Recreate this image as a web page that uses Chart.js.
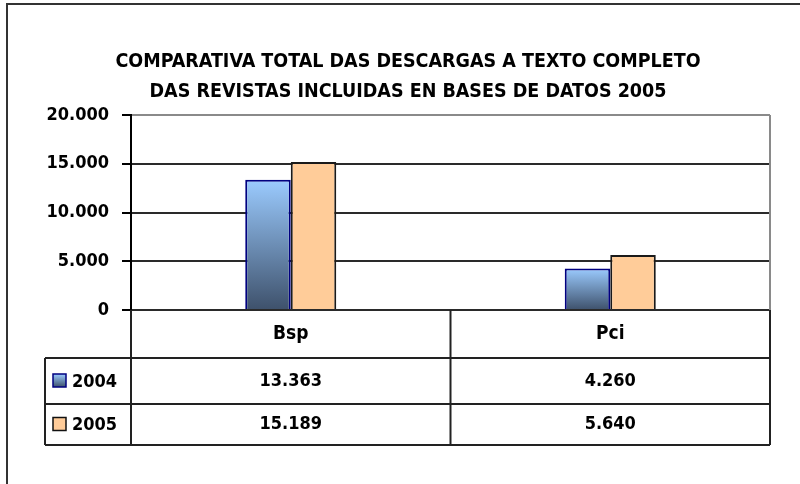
<!DOCTYPE html>
<html>
<head>
<meta charset="utf-8">
<script src="https://cdn.jsdelivr.net/npm/chart.js@4"></script>
<style>
  html, body { margin: 0; padding: 0; background: #fff; }
  #wrap { width: 800px; height: 484px; }
</style>
</head>
<body>
<div id="wrap"><canvas id="descargasChart" width="800" height="484"></canvas></div>
<script>
var categories = ['Bsp', 'Pci'];
var seriesNames = ['2004', '2005'];
var values2004 = [13363, 4260];
var values2005 = [15189, 5640];
var titleLines = [
    'COMPARATIVA TOTAL DAS DESCARGAS A TEXTO COMPLETO',
    'DAS REVISTAS INCLUIDAS EN BASES DE DATOS 2005'
];
var yMin = 0, yMax = 20000, yStep = 5000;

var FONT = '"DejaVu Sans Condensed", "DejaVu Sans", sans-serif';

function fmt(v) {
    return String(v).replace(/\B(?=(\d{3})+(?!\d))/g, '.');
}

function blueGradient(ctx, top, bottom) {
    var g = ctx.createLinearGradient(0, top, 0, bottom);
    g.addColorStop(0, '#9BCBFF');
    g.addColorStop(1, '#3E516B');
    return g;
}

var tablePlugin = {
    id: 'dataTable',
    beforeDraw: function(chart) {
        var c = chart.ctx;
        c.save();
        c.fillStyle = '#fff';
        c.fillRect(0, 0, chart.width, chart.height);
        c.restore();
    },
    afterDraw: function(chart) {
        var c = chart.ctx;
        var area = chart.chartArea;
        var x = chart.scales.x;
        var catW = area.width / categories.length;
        var headerBottom = area.bottom + 48;
        var row1Bottom = headerBottom + 46;
        var row2Bottom = row1Bottom + 41;
        var tableLeft = 45;

        c.save();
        // outer frame
        c.strokeStyle = '#333';
        c.lineWidth = 2;
        c.strokeRect(7, 4, chart.width + 20, chart.height + 20);

        // plot right border
        c.strokeStyle = '#8a8a8a';
        c.lineWidth = 2;
        c.beginPath();
        c.moveTo(area.right, area.top);
        c.lineTo(area.right, area.bottom);
        c.stroke();

        // table lines
        c.strokeStyle = '#222';
        c.lineWidth = 2;
        c.beginPath();
        for (var i = 0; i <= categories.length; i++) {
            var vx = area.left + i * catW;
            c.moveTo(vx, area.bottom);
            c.lineTo(vx, row2Bottom);
        }
        c.moveTo(tableLeft, headerBottom);
        c.lineTo(tableLeft, row2Bottom);
        c.moveTo(tableLeft, headerBottom);
        c.lineTo(area.right, headerBottom);
        c.moveTo(tableLeft, row1Bottom);
        c.lineTo(area.right, row1Bottom);
        c.moveTo(tableLeft, row2Bottom);
        c.lineTo(area.right, row2Bottom);
        c.stroke();

        // texts
        c.fillStyle = '#000';
        c.textAlign = 'center';
        c.textBaseline = 'middle';
        var rows = [values2004, values2005];
        var rowMid = [(headerBottom + row1Bottom) / 2, (row1Bottom + row2Bottom) / 2];
        categories.forEach(function(cat, i) {
            var cx = x.getPixelForValue(i);
            c.font = 'bold 19px ' + FONT;
            c.fillText(cat, cx, (area.bottom + headerBottom) / 2);
            c.font = 'bold 18px ' + FONT;
            rows.forEach(function(r, j) {
                c.fillText(fmt(r[i]), cx, rowMid[j]);
            });
        });

        // legend keys
        c.textAlign = 'left';
        c.font = 'bold 18px ' + FONT;
        seriesNames.forEach(function(name, j) {
            var sy = rowMid[j] - 7;
            if (j === 0) {
                c.fillStyle = blueGradient(c, sy, sy + 13);
                c.strokeStyle = '#000080';
            } else {
                c.fillStyle = '#FFCC99';
                c.strokeStyle = '#111';
            }
            c.lineWidth = 1.5;
            c.fillRect(53, sy, 13, 13);
            c.strokeRect(53, sy, 13, 13);
            c.fillStyle = '#000';
            c.fillText(name, 72, rowMid[j] + 1);
        });
        c.restore();
    }
};

var ctxBar = document.getElementById('descargasChart');

var myBarChart = new Chart(ctxBar, {
    type: 'bar',
    data: {
        labels: categories,
        datasets: [{
            label: seriesNames[0],
            data: values2004,
            backgroundColor: function(context) {
                var chart = context.chart;
                if (!chart.chartArea) return '#7FA9D8';
                var y = chart.scales.y;
                var v = context.raw;
                return blueGradient(chart.ctx, y.getPixelForValue(v), y.getPixelForValue(0));
            },
            borderColor: '#000080',
            borderWidth: 2
        }, {
            label: seriesNames[1],
            data: values2005,
            backgroundColor: '#FFCC99',
            borderColor: '#1a1a1a',
            borderWidth: 2
        }]
    },
    options: {
        responsive: false,
        animation: false,
        layout: {
            padding: { left: 46, right: 30, top: 0, bottom: 174 }
        },
        datasets: {
            bar: {
                barPercentage: 1,
                categoryPercentage: 0.285
            }
        },
        scales: {
            x: {
                display: false
            },
            y: {
                min: yMin,
                max: yMax,
                afterFit: function(s) { s.width = 85; },
                ticks: {
                    stepSize: yStep,
                    color: '#000',
                    padding: 13,
                    font: { family: FONT, size: 18, weight: 'bold' },
                    callback: function(v) { return fmt(v); }
                },
                grid: {
                    color: function(ctx) {
                        return ctx.tick && ctx.tick.value === yMax ? '#8a8a8a' : '#2a2a2a';
                    },
                    tickColor: '#000',
                    lineWidth: 2,
                    tickLength: 9
                },
                border: { display: true, color: '#000', width: 2 }
            }
        },
        plugins: {
            legend: { display: false },
            tooltip: { enabled: false },
            title: {
                display: true,
                text: titleLines,
                color: '#000',
                font: { family: FONT, size: 19.5, weight: 'bold', lineHeight: 1.54 },
                padding: { top: 47, bottom: 8 }
            }
        }
    },
    plugins: [tablePlugin]
});
</script>
</body>
</html>
